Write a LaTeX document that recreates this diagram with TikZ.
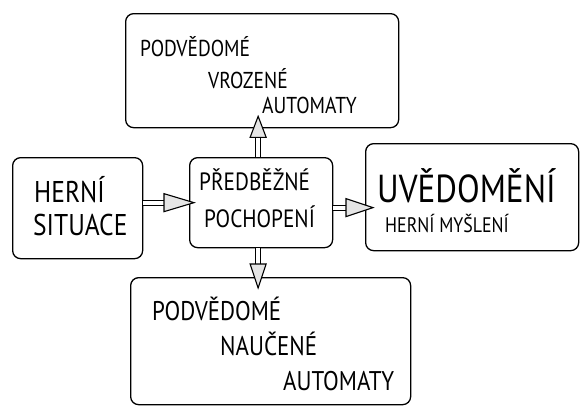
\documentclass[tikz,border=0pt]{standalone}
\usepackage{fontspec}
\setmainfont{PT Sans}
\newfontfamily\hand[FakeStretch=0.85]{PT Sans}
\usetikzlibrary{arrows.meta,calc}
\begin{document}
\begin{tikzpicture}[x=1pt,y=-1pt,
  box/.style={draw, line width=1.3pt, rounded corners=8pt, inner sep=0pt, anchor=north west},
  lbl/.style={inner sep=0pt, anchor=base west},
  shaft/.style={draw, double=white, double distance=4pt, line width=1.1pt},
  head/.style={draw, line width=1.1pt, line join=miter, fill=gray!20},
]
\useasboundingbox[fill=white] (0,0) rectangle (580,407);
% boxes
\node[box, minimum width=273pt, minimum height=114pt] (top) at (125,13) {};
\node[box, minimum width=130pt, minimum height=101pt] (left) at (12,157) {};
\node[box, minimum width=143pt, minimum height=90pt] (mid) at (189,157) {};
\node[box, minimum width=213pt, minimum height=107pt] (right) at (365,143) {};
\node[box, minimum width=280pt, minimum height=127pt] (bot) at (130,277) {};
% texts
\node[lbl, font=\hand\fontsize{23}{23}\selectfont] (t1) at (140,56) {PODVĚDOMÉ};
\node[lbl, font=\hand\fontsize{23}{23}\selectfont] (t2) at (208,88) {VROZENÉ};
\node[lbl, font=\hand\fontsize{23}{23}\selectfont] (t3) at (262,113) {AUTOMATY};
\node[lbl, font=\hand\fontsize{30}{30}\selectfont] (l1) at (34,202) {HERNÍ};
\node[lbl, font=\hand\fontsize{30}{30}\selectfont] (l2) at (33,235) {SITUACE};
\node[lbl, font=\hand\fontsize{25}{25}\selectfont] (m1) at (199,190) {PŘEDBĚŽNÉ};
\node[lbl, font=\hand\fontsize{25}{25}\selectfont] (m2) at (204,227) {POCHOPENÍ};
\node[lbl, font=\hand\fontsize{39}{39}\selectfont] (r1) at (377,202) {UVĚDOMĚNÍ};
\node[lbl, font=\hand\fontsize{21}{21}\selectfont] (r2) at (385,232) {HERNÍ MYŠLENÍ};
\node[lbl, font=\hand\fontsize{27}{27}\selectfont] (b1) at (152,320) {PODVĚDOMÉ};
\node[lbl, font=\hand\fontsize{27}{27}\selectfont] (b2) at (220,355) {NAUČENÉ};
\node[lbl, font=\hand\fontsize{27}{27}\selectfont] (b3) at (283,390) {AUTOMATY};
% arrow: left -> mid
\coordinate (la) at ($(mid.west)+(5,0)$);
\draw[shaft] (left.east |- mid.west) -- ($(la)+(-20,0)$);
\draw[head] (la) -- ($(la)+(-30,-9)$) -- ($(la)+(-30,9)$) -- cycle;
% arrow: mid -> right
\coordinate (ra) at ($(right.west |- mid.east)+(8,5)$);
\draw[shaft] ($(mid.east)+(0,5)$) -- ($(ra)+(-20,0)$);
\draw[head] (ra) -- ($(ra)+(-27,-9)$) -- ($(ra)+(-27,9)$) -- cycle;
% arrow: mid -> top
\coordinate (ua) at ($(top.south -| mid.north)+(-3,-12)$);
\draw[shaft] ($(mid.north)+(-3,0)$) -- ($(ua)+(0,14)$);
\draw[head] (ua) -- ($(ua)+(-8,21)$) -- ($(ua)+(8,21)$) -- cycle;
% arrow: mid -> bottom
\coordinate (da) at ($(bot.north -| mid.south)+(-3,11)$);
\draw[shaft] ($(mid.south)+(-3,0)$) -- ($(da)+(0,-16)$);
\draw[head] (da) -- ($(da)+(-8,-24)$) -- ($(da)+(8,-24)$) -- cycle;
\end{tikzpicture}
\end{document}
